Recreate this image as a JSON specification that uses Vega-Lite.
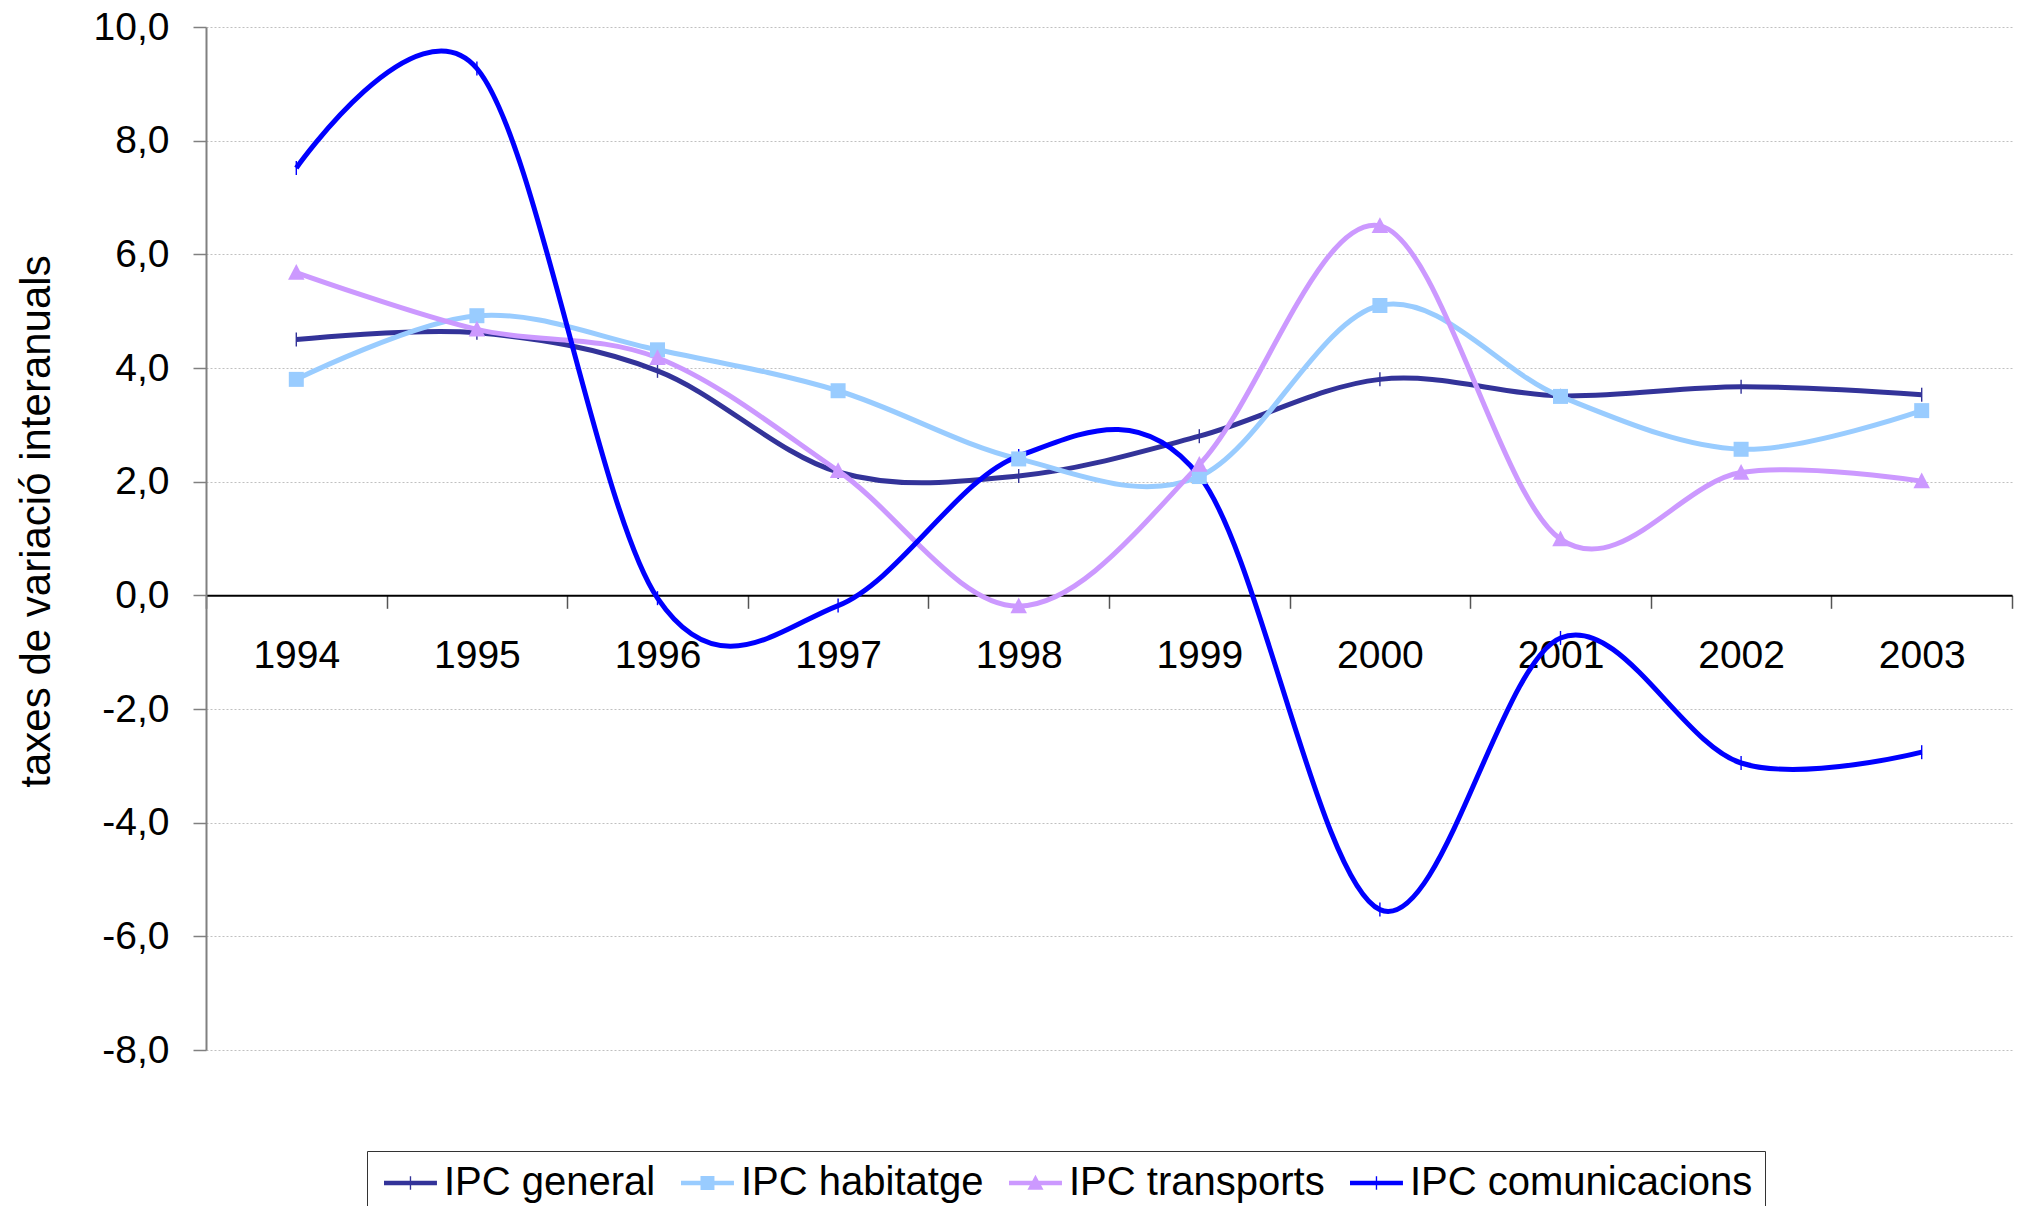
{
  "$schema": "https://vega.github.io/schema/vega-lite/v6.json",
  "width": 1806,
  "height": 1023,
  "autosize": {"type": "none"},
  "padding": {"left": 206, "top": 27, "right": 10, "bottom": 156},
  "background": "white",
  "config": {
    "view": {"stroke": null},
    "font": "Liberation Sans"
  },
  "data": {
    "values": [
      {"year": "1994", "series": "IPC general", "value": 4.5},
      {"year": "1995", "series": "IPC general", "value": 4.62},
      {"year": "1996", "series": "IPC general", "value": 3.95},
      {"year": "1997", "series": "IPC general", "value": 2.17},
      {"year": "1998", "series": "IPC general", "value": 2.1},
      {"year": "1999", "series": "IPC general", "value": 2.8},
      {"year": "2000", "series": "IPC general", "value": 3.8},
      {"year": "2001", "series": "IPC general", "value": 3.51},
      {"year": "2002", "series": "IPC general", "value": 3.67},
      {"year": "2003", "series": "IPC general", "value": 3.53},
      {"year": "1994", "series": "IPC habitatge", "value": 3.8},
      {"year": "1995", "series": "IPC habitatge", "value": 4.92},
      {"year": "1996", "series": "IPC habitatge", "value": 4.32},
      {"year": "1997", "series": "IPC habitatge", "value": 3.6},
      {"year": "1998", "series": "IPC habitatge", "value": 2.4},
      {"year": "1999", "series": "IPC habitatge", "value": 2.09},
      {"year": "2000", "series": "IPC habitatge", "value": 5.1},
      {"year": "2001", "series": "IPC habitatge", "value": 3.5},
      {"year": "2002", "series": "IPC habitatge", "value": 2.57},
      {"year": "2003", "series": "IPC habitatge", "value": 3.25},
      {"year": "1994", "series": "IPC transports", "value": 5.68},
      {"year": "1995", "series": "IPC transports", "value": 4.68},
      {"year": "1996", "series": "IPC transports", "value": 4.18},
      {"year": "1997", "series": "IPC transports", "value": 2.19},
      {"year": "1998", "series": "IPC transports", "value": -0.19},
      {"year": "1999", "series": "IPC transports", "value": 2.3},
      {"year": "2000", "series": "IPC transports", "value": 6.5},
      {"year": "2001", "series": "IPC transports", "value": 0.99},
      {"year": "2002", "series": "IPC transports", "value": 2.16},
      {"year": "2003", "series": "IPC transports", "value": 2.01},
      {"year": "1994", "series": "IPC comunicacions", "value": 7.52},
      {"year": "1995", "series": "IPC comunicacions", "value": 9.27},
      {"year": "1996", "series": "IPC comunicacions", "value": -0.05},
      {"year": "1997", "series": "IPC comunicacions", "value": -0.18},
      {"year": "1998", "series": "IPC comunicacions", "value": 2.45},
      {"year": "1999", "series": "IPC comunicacions", "value": 2.1},
      {"year": "2000", "series": "IPC comunicacions", "value": -5.53},
      {"year": "2001", "series": "IPC comunicacions", "value": -0.75},
      {"year": "2002", "series": "IPC comunicacions", "value": -2.95},
      {"year": "2003", "series": "IPC comunicacions", "value": -2.76}
    ]
  },
  "encoding": {
    "x": {
      "field": "year",
      "type": "ordinal",
      "bandPosition": 0.5,
      "scale": {"type": "band", "paddingInner": 0, "paddingOuter": 0},
      "axis": {
        "orient": "bottom",
        "offset": -454.7,
        "title": null,
        "grid": false,
        "domainColor": "#000000",
        "domainWidth": 2,
        "tickColor": "#555555",
        "tickSize": 13,
        "tickWidth": 1.5,
        "tickBand": "extent",
        "labelAngle": 0,
        "labelFont": "Liberation Sans",
        "labelFontSize": 39,
        "labelColor": "#000000",
        "labelPadding": 28
      }
    },
    "y": {
      "field": "value",
      "type": "quantitative",
      "scale": {"domain": [-8, 10], "nice": false, "zero": false},
      "axis": {
        "values": [-8, -6, -4, -2, 0, 2, 4, 6, 8, 10],
        "labelExpr": "replace(replace(format(datum.value, '.1f'), '.', ','), '\u2212', '-')",
        "labelFont": "Liberation Sans",
        "labelFontSize": 39,
        "labelColor": "#000000",
        "labelPadding": 24,
        "tickSize": 13,
        "tickColor": "#808080",
        "tickWidth": 1.5,
        "domainColor": "#808080",
        "domainWidth": 2,
        "grid": true,
        "gridColor": "#c0c0c0",
        "gridDash": [2, 2],
        "gridWidth": 1,
        "title": "taxes de variació interanuals",
        "titleFont": "Liberation Sans",
        "titleFontSize": 42,
        "titleFontWeight": "normal",
        "titleColor": "#000000",
        "titleAngle": 270,
        "titleX": -170,
        "titleY": 494,
        "titleAlign": "center",
        "titleBaseline": "middle"
      }
    },
    "color": {
      "field": "series",
      "type": "nominal",
      "scale": {
        "domain": ["IPC general", "IPC habitatge", "IPC transports", "IPC comunicacions"],
        "range": ["#333399", "#99CCFF", "#CC99FF", "#0000FF"]
      },
      "legend": {
        "title": null,
        "orient": "none",
        "direction": "horizontal",
        "legendX": 161,
        "legendY": 1124,
        "padding": 12,
        "strokeColor": "#333333",
        "fillColor": "#ffffff",
        "labelFont": "Liberation Sans",
        "labelFontSize": 40,
        "labelColor": "#000000",
        "labelLimit": 1000,
        "labelOffset": 25,
        "columnPadding": 20,
        "symbolSize": 900,
        "encode": {
          "symbols": {
            "update": {
              "shape": {"signal": "datum.value === 'IPC habitatge' ? 'M-1,-0.15H2.53V0.15H-1Z M0.3,-0.47H1.23V0.47H0.3Z' : datum.value === 'IPC transports' ? 'M-1,-0.15H2.53V0.15H-1Z M0.765,-0.55L1.3,0.45H0.23Z' : 'M-1,-0.15H2.53V0.15H-1Z M0.72,-0.45H0.81V0.45H0.72Z'"},
              "fill": {"signal": "scale('color', datum.value)"},
              "fillOpacity": {"value": 1},
              "strokeWidth": {"value": 0},
              "opacity": {"value": 1}
            }
          }
        }
      }
    }
  },
  "layer": [
    {
      "mark": {"type": "line", "interpolate": "cardinal", "strokeWidth": 5},
      "encoding": {}
    },
    {
      "transform": [{"filter": "datum.series === 'IPC general' || datum.series === 'IPC comunicacions'"}],
      "mark": {"type": "point", "filled": true, "size": 196, "opacity": 1, "shape": "M-0.1,-1H0.1V1H-0.1Z"},
      "encoding": {}
    },
    {
      "transform": [{"filter": "datum.series === 'IPC habitatge'"}],
      "mark": {"type": "point", "filled": true, "size": 225, "opacity": 1, "shape": "M-1,-1H1V1H-1Z"},
      "encoding": {}
    },
    {
      "transform": [{"filter": "datum.series === 'IPC transports'"}],
      "mark": {"type": "point", "filled": true, "size": 225, "opacity": 1, "shape": "M0,-1.15L1.1,0.95H-1.1Z"},
      "encoding": {}
    }
  ]
}
